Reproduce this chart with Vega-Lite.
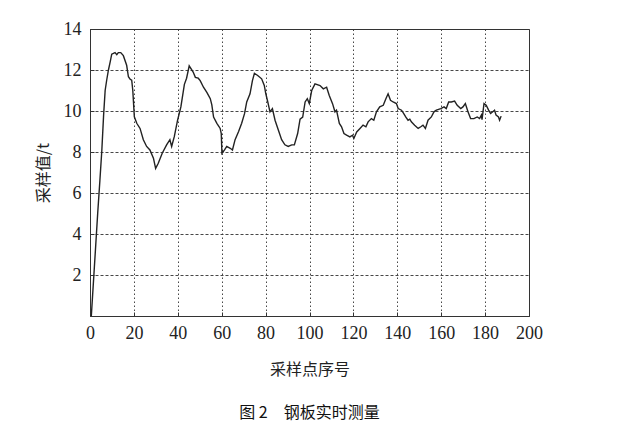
{
  "$schema": "https://vega.github.io/schema/vega-lite/v6.json",
  "width": 439,
  "height": 287,
  "autosize": "none",
  "padding": {"left": 90, "top": 29, "right": 91, "bottom": 119},
  "background": "white",
  "title": {
    "text": "图 2　钢板实时测量",
    "orient": "bottom",
    "anchor": "middle",
    "font": "Noto Sans CJK SC",
    "fontSize": 16,
    "fontWeight": "normal",
    "color": "#111",
    "offset": 28
  },
  "data": {
    "values": [
      {"x": 0.6, "y": 0}, {"x": 2, "y": 2.4}, {"x": 3.5, "y": 5}, {"x": 4.5, "y": 6.6},
      {"x": 5.4, "y": 8.1}, {"x": 6.2, "y": 9.8}, {"x": 6.9, "y": 11}, {"x": 7.6, "y": 11.5},
      {"x": 8.4, "y": 12}, {"x": 9.2, "y": 12.4}, {"x": 9.9, "y": 12.77}, {"x": 11.4, "y": 12.85},
      {"x": 12.2, "y": 12.75}, {"x": 12.9, "y": 12.85}, {"x": 14, "y": 12.85}, {"x": 15.2, "y": 12.7},
      {"x": 16.7, "y": 12.23}, {"x": 17.5, "y": 11.67}, {"x": 18.3, "y": 11.55}, {"x": 19, "y": 11.5},
      {"x": 19.5, "y": 11.0}, {"x": 20.2, "y": 9.72}, {"x": 21.3, "y": 9.4}, {"x": 22.8, "y": 9.15},
      {"x": 24.3, "y": 8.6}, {"x": 25.8, "y": 8.27}, {"x": 27.3, "y": 8.1}, {"x": 28.9, "y": 7.7},
      {"x": 29.9, "y": 7.2}, {"x": 31.1, "y": 7.45}, {"x": 32.9, "y": 7.94}, {"x": 34.9, "y": 8.35},
      {"x": 36.4, "y": 8.6}, {"x": 37.2, "y": 8.27}, {"x": 38.4, "y": 8.75}, {"x": 39.9, "y": 9.55},
      {"x": 41.4, "y": 10.2}, {"x": 43, "y": 11.3}, {"x": 44, "y": 11.6}, {"x": 45.2, "y": 12.2},
      {"x": 47, "y": 11.9}, {"x": 48, "y": 11.64}, {"x": 49.3, "y": 11.6}, {"x": 50.2, "y": 11.48},
      {"x": 51.7, "y": 11.16}, {"x": 53.3, "y": 10.9}, {"x": 54.8, "y": 10.6}, {"x": 55.5, "y": 10.3},
      {"x": 56.3, "y": 9.7}, {"x": 57.8, "y": 9.4}, {"x": 59.3, "y": 9.15}, {"x": 59.8, "y": 8.9},
      {"x": 60.1, "y": 7.94}, {"x": 61.3, "y": 8.1}, {"x": 62.3, "y": 8.27}, {"x": 63.9, "y": 8.18},
      {"x": 64.9, "y": 8.1}, {"x": 66.1, "y": 8.6}, {"x": 67.7, "y": 9.0}, {"x": 69.1, "y": 9.4},
      {"x": 70.4, "y": 9.87}, {"x": 71.4, "y": 10.44}, {"x": 72.9, "y": 10.84}, {"x": 74, "y": 11.48},
      {"x": 74.9, "y": 11.84}, {"x": 76.4, "y": 11.73}, {"x": 78.2, "y": 11.57}, {"x": 79.4, "y": 11.25},
      {"x": 80.1, "y": 10.84}, {"x": 81, "y": 10.44}, {"x": 82, "y": 9.96}, {"x": 83.1, "y": 10.12},
      {"x": 84.3, "y": 9.55}, {"x": 85.8, "y": 9.07}, {"x": 87.3, "y": 8.6}, {"x": 88.8, "y": 8.35},
      {"x": 90.3, "y": 8.27}, {"x": 91.9, "y": 8.35}, {"x": 93.1, "y": 8.35}, {"x": 94.6, "y": 8.9},
      {"x": 95.7, "y": 9.6}, {"x": 96.9, "y": 9.7}, {"x": 98, "y": 10.44}, {"x": 99, "y": 10.6},
      {"x": 99.9, "y": 10.36}, {"x": 101, "y": 11.0}, {"x": 102.5, "y": 11.32}, {"x": 104.8, "y": 11.24},
      {"x": 106.3, "y": 11.08}, {"x": 107.8, "y": 11.16}, {"x": 109, "y": 10.76}, {"x": 110.5, "y": 10.36},
      {"x": 111.6, "y": 9.96}, {"x": 112.3, "y": 10.04}, {"x": 113.6, "y": 9.39}, {"x": 114.6, "y": 9.23},
      {"x": 115.7, "y": 8.9}, {"x": 116.9, "y": 8.82}, {"x": 118.4, "y": 8.74}, {"x": 119.6, "y": 8.82},
      {"x": 120.2, "y": 8.66}, {"x": 121.5, "y": 8.98}, {"x": 123, "y": 9.15}, {"x": 124.4, "y": 9.31},
      {"x": 125.7, "y": 9.23}, {"x": 126.7, "y": 9.47}, {"x": 128.2, "y": 9.63}, {"x": 129.3, "y": 9.55},
      {"x": 130.5, "y": 9.96}, {"x": 132, "y": 10.2}, {"x": 133.6, "y": 10.28}, {"x": 134.8, "y": 10.6},
      {"x": 135.8, "y": 10.84}, {"x": 136.9, "y": 10.52}, {"x": 138.1, "y": 10.44}, {"x": 139.6, "y": 10.36},
      {"x": 140.4, "y": 10.12}, {"x": 141.9, "y": 10.04}, {"x": 142.8, "y": 9.9}, {"x": 143.9, "y": 9.7},
      {"x": 144.9, "y": 9.55}, {"x": 145.7, "y": 9.6}, {"x": 146.4, "y": 9.47}, {"x": 147.9, "y": 9.31},
      {"x": 149.5, "y": 9.15}, {"x": 150.7, "y": 9.23}, {"x": 151.7, "y": 9.31}, {"x": 152.8, "y": 9.15},
      {"x": 154, "y": 9.55}, {"x": 155.5, "y": 9.71}, {"x": 156.7, "y": 9.96}, {"x": 157.8, "y": 10.04},
      {"x": 159.8, "y": 10.12}, {"x": 161.3, "y": 10.2}, {"x": 162.3, "y": 10.12}, {"x": 163.4, "y": 10.44},
      {"x": 164.6, "y": 10.44}, {"x": 166.1, "y": 10.48}, {"x": 167.3, "y": 10.28}, {"x": 168.9, "y": 10.12},
      {"x": 169.9, "y": 10.2}, {"x": 171, "y": 10.36}, {"x": 172.2, "y": 9.96}, {"x": 173.4, "y": 9.63},
      {"x": 174.9, "y": 9.63}, {"x": 176.4, "y": 9.71}, {"x": 177.5, "y": 9.63}, {"x": 178.3, "y": 9.8},
      {"x": 178.6, "y": 9.58}, {"x": 179.5, "y": 10.36}, {"x": 180.5, "y": 10.28}, {"x": 181.6, "y": 10.04},
      {"x": 182.5, "y": 9.88}, {"x": 183.5, "y": 9.96}, {"x": 184.3, "y": 10.04}, {"x": 185, "y": 9.8},
      {"x": 186.1, "y": 9.71}, {"x": 186.6, "y": 9.55}, {"x": 187.3, "y": 9.75}
    ]
  },
  "mark": {"type": "line", "color": "#222", "strokeWidth": 1.4, "interpolate": "linear"},
  "encoding": {
    "x": {
      "field": "x",
      "type": "quantitative",
      "scale": {"domain": [0, 200], "nice": false},
      "axis": {
        "values": [0, 20, 40, 60, 80, 100, 120, 140, 160, 180, 200],
        "labelFlush": false,
        "labelFont": "serif",
        "labelFontSize": 18,
        "title": "采样点序号",
        "titleFont": "Noto Sans CJK SC",
        "titleFontSize": 16,
        "titleFontWeight": "normal",
        "titleColor": "#222",
        "titlePadding": 19,
        "gridDash": [1.5, 2.5],
        "labelPadding": 12
      }
    },
    "y": {
      "field": "y",
      "type": "quantitative",
      "scale": {"domain": [0, 14], "nice": false},
      "axis": {
        "values": [2, 4, 6, 8, 10, 12, 14],
        "labelFont": "serif",
        "labelFontSize": 18,
        "title": "采样值/t",
        "titleFont": "Noto Sans CJK SC",
        "titleFontSize": 16,
        "titleFontWeight": "normal",
        "titleColor": "#222",
        "titlePadding": 12,
        "gridDash": [3, 2],
        "labelPadding": 13
      }
    }
  },
  "config": {
    "view": {"stroke": "#333", "strokeWidth": 1},
    "axis": {
      "domainColor": "#333",
      "tickColor": "#333",
      "tickSize": -4,
      "gridColor": "#333",
      "gridOpacity": 0.9,
      "gridWidth": 1,
      "labelColor": "#222"
    }
  }
}
